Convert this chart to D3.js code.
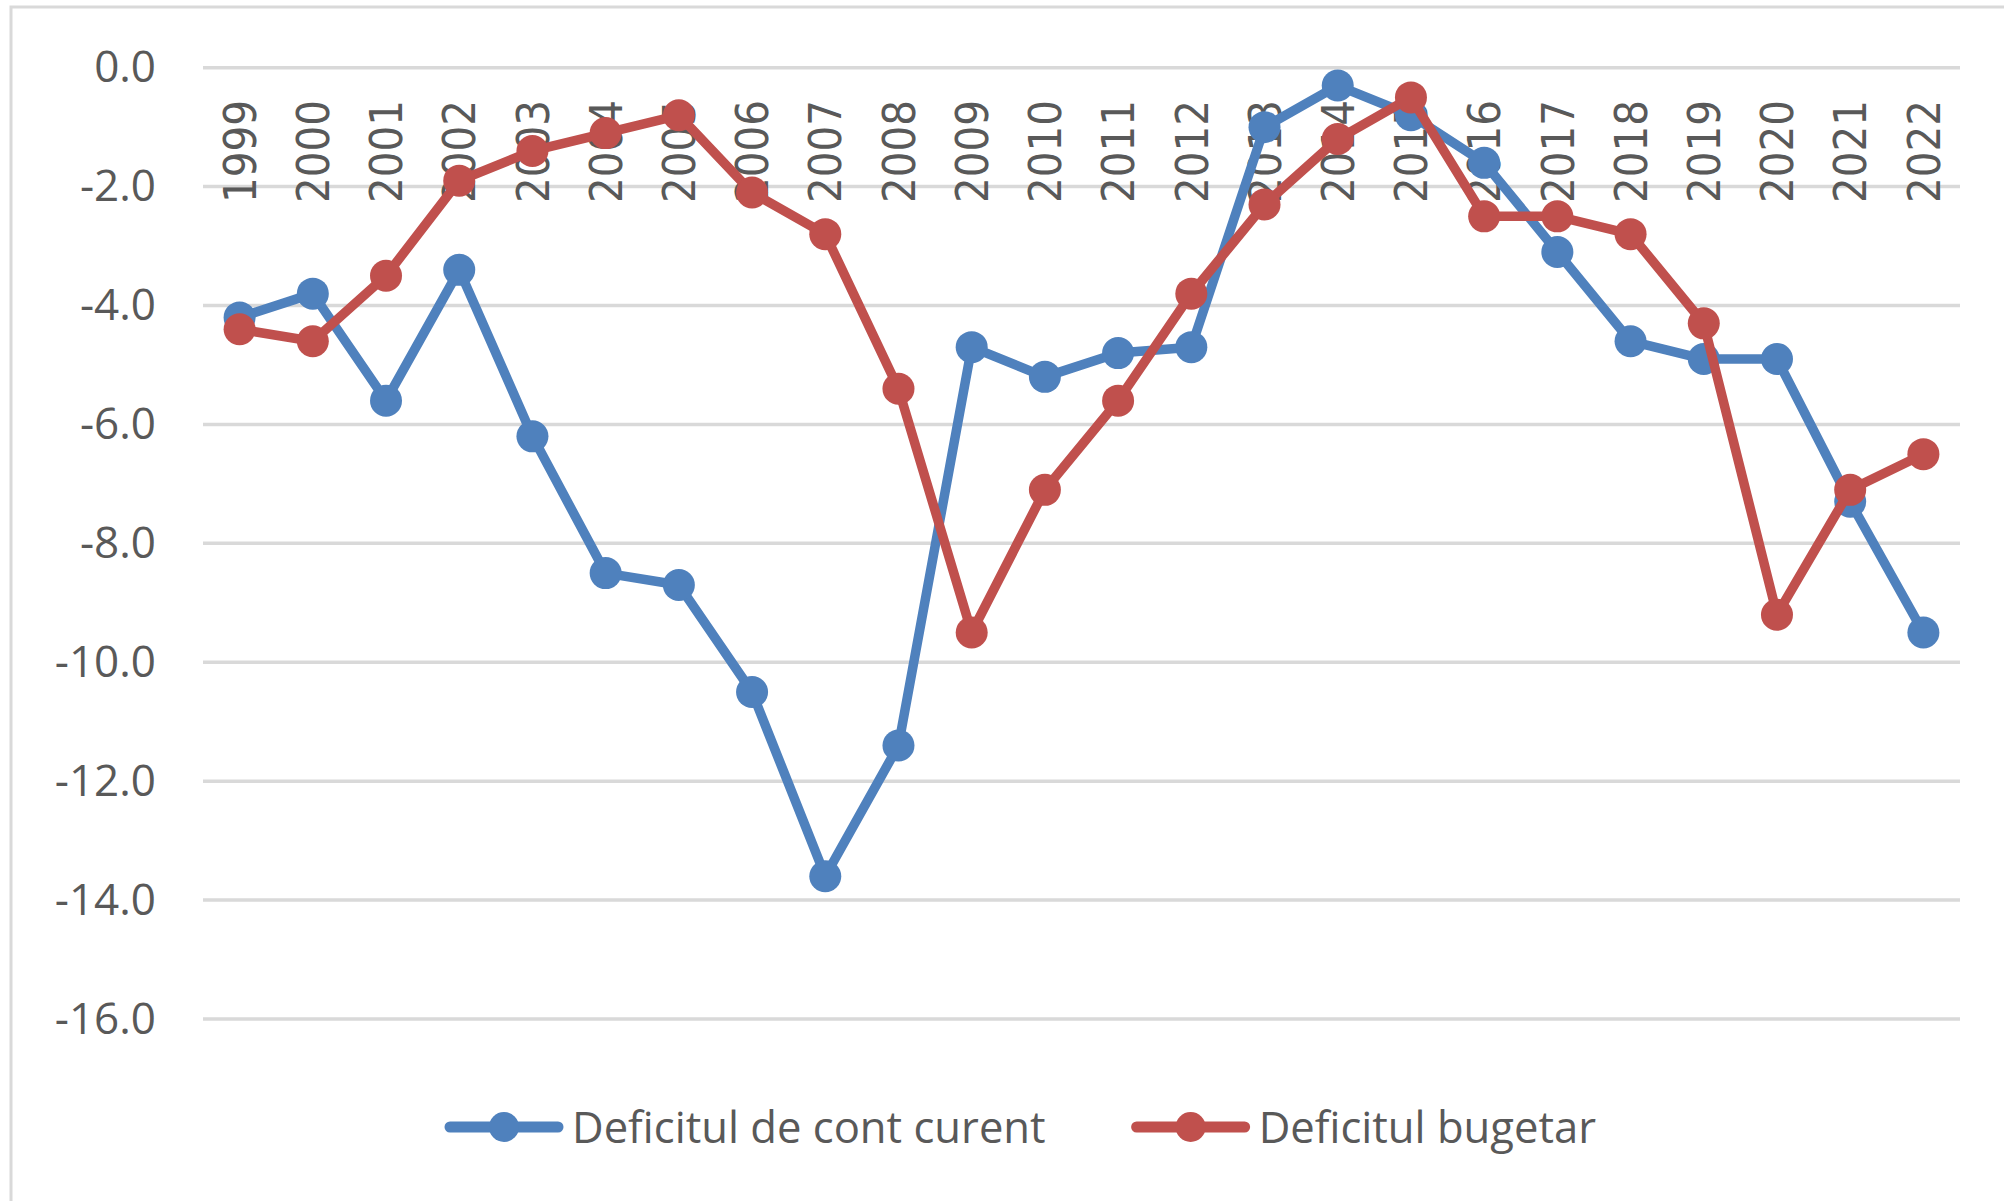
<!DOCTYPE html>
<html lang="ro">
<head>
  <meta charset="UTF-8">
  <title>Deficitul de cont curent si deficitul bugetar</title>
  <script src="https://d3js.org/d3.v7.min.js"></script>
  <style>
    body { margin: 0; background: #fff; }
    svg { display: block; }
  </style>
</head>
<body>
  <div id="chart"></div>
  <script>
    // date (% din PIB)
    var years = ["1999", "2000", "2001", "2002", "2003", "2004", "2005", "2006", "2007", "2008", "2009", "2010",
                 "2011", "2012", "2013", "2014", "2015", "2016", "2017", "2018", "2019", "2020", "2021", "2022"];
    var contCurent = [-4.2, -3.8, -5.6, -3.4, -6.2, -8.5, -8.7, -10.5, -13.6, -11.4, -4.7, -5.2,
                      -4.8, -4.7, -1.0, -0.3, -0.8, -1.6, -3.1, -4.6, -4.9, -4.9, -7.3, -9.5];
    var bugetar = [-4.4, -4.6, -3.5, -1.9, -1.4, -1.1, -0.8, -2.1, -2.8, -5.4, -9.5, -7.1,
                   -5.6, -3.8, -2.3, -1.2, -0.5, -2.5, -2.5, -2.8, -4.3, -9.2, -7.1, -6.5];
    var yTicks = [0, -2, -4, -6, -8, -10, -12, -14, -16];
    var seriesNames = ["Deficitul de cont curent", "Deficitul bugetar"];
    var seriesColors = ["#4f81bd", "#c0504d"];

    var width = 2004, height = 1201;
    var textColor = "#595959", gridColor = "#d9d9d9";

    var svg = d3.select("#chart").append("svg")
      .attr("width", width)
      .attr("height", height);

    // chenarul graficului
    svg.append("rect")
      .attr("x", 11).attr("y", 7)
      .attr("width", width).attr("height", height)
      .attr("fill", "none")
      .attr("stroke", gridColor)
      .attr("stroke-width", 3);

    var x = d3.scalePoint()
      .domain(years)
      .range([203, 1960])
      .padding(0.5);

    var y = d3.scaleLinear()
      .domain([-16, 0])
      .range([1019, 67.7]);

    // linii de grila
    svg.append("g")
      .selectAll("line")
      .data(yTicks)
      .enter()
      .append("line")
      .attr("x1", 203).attr("x2", 1960)
      .attr("y1", function (d) { return y(d); })
      .attr("y2", function (d) { return y(d); })
      .attr("stroke", gridColor)
      .attr("stroke-width", 3.5);

    // axa Y (cu cratima simpla, ca in Excel)
    var yAxis = svg.append("g")
      .attr("transform", "translate(156,0)")
      .call(d3.axisLeft(y).tickValues(yTicks).tickSize(0).tickPadding(0)
        .tickFormat(function (d) { return d.toFixed(1); }));
    yAxis.select(".domain").remove();
    yAxis.selectAll("text")
      .attr("fill", textColor)
      .style("font-family", "'Open Sans', sans-serif")
      .style("font-size", "44px");

    // etichetele anilor, rotite, sub linia de 0
    svg.append("g")
      .selectAll("text")
      .data(years)
      .enter()
      .append("text")
      .attr("transform", function (d) { return "translate(" + x(d) + ",100) rotate(-90)"; })
      .attr("text-anchor", "end")
      .attr("dy", "0.36em")
      .attr("fill", textColor)
      .style("font-family", "'DejaVu Sans Condensed', 'DejaVu Sans', sans-serif")
      .style("font-size", "45px")
      .text(function (d) { return d; });

    var line = d3.line()
      .x(function (d, i) { return x(years[i]); })
      .y(function (d) { return y(d); });

    [contCurent, bugetar].forEach(function (values, s) {
      var g = svg.append("g");
      g.append("path")
        .datum(values)
        .attr("d", line)
        .attr("fill", "none")
        .attr("stroke", seriesColors[s])
        .attr("stroke-width", 9.5)
        .attr("stroke-linejoin", "round");
      g.selectAll("circle")
        .data(values)
        .enter()
        .append("circle")
        .attr("cx", function (d, i) { return x(years[i]); })
        .attr("cy", function (d) { return y(d); })
        .attr("r", 16)
        .attr("fill", seriesColors[s]);
    });

    // legenda
    var legendX = 445, legendY = 1127;
    seriesNames.forEach(function (name, s) {
      var g = svg.append("g").attr("transform", "translate(" + legendX + "," + legendY + ")");
      g.append("line")
        .attr("x1", 5).attr("x2", 113)
        .attr("y1", 0).attr("y2", 0)
        .attr("stroke", seriesColors[s])
        .attr("stroke-width", 11)
        .attr("stroke-linecap", "round");
      g.append("circle")
        .attr("cx", 59).attr("cy", 0).attr("r", 15)
        .attr("fill", seriesColors[s]);
      var t = g.append("text")
        .attr("x", 127)
        .attr("dy", "0.36em")
        .attr("fill", textColor)
        .style("font-family", "'Open Sans', sans-serif")
        .style("font-size", "43.6px")
        .text(name);
      legendX += 127 + t.node().getComputedTextLength() + 86;
    });
  </script>
</body>
</html>
